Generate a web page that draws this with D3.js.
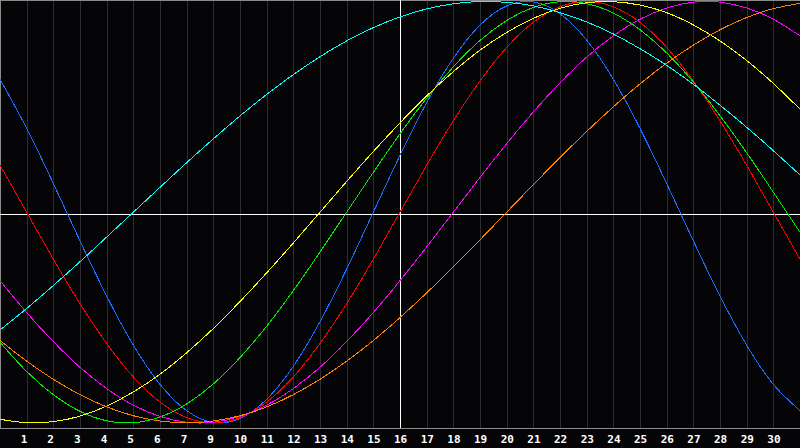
<!DOCTYPE html>
<html>
<head>
<meta charset="utf-8">
<script src="https://cdn.jsdelivr.net/npm/d3@7"></script>
<style>
  html, body { margin: 0; padding: 0; background: #050508; }
  #chart { width: 800px; height: 448px; }
</style>
</head>
<body>
<div id="chart"></div>
<script>
// day index 0..30 (one grid column per day)
const days = d3.range(0, 31);

// tick labels under grid lines 1..29 (the original skips 8)
const tickLabels = [1, 2, 3, 4, 5, 6, 7, 9, 10, 11, 12, 13, 14, 15, 16, 17, 18, 19, 20, 21, 22, 23, 24, 25, 26, 27, 28, 29, 30];
const todayIndex = 15;

// cycle values in percent
const blue23 = [63.1, 39.8, 13.6, -13.6, -39.8, -63.1, -81.7, -94.2, -99.8, -97.9, -88.8, -73.1, -52.0, -27.0, 0, 27.0, 52.0, 73.1, 88.8, 97.9, 99.8, 94.2, 81.7, 63.1, 39.8, 13.6, -13.6, -39.8, -63.1, -81.7, -94.2];
const red28 = [22.3, 0, -22.3, -43.4, -62.3, -78.2, -90.1, -97.5, -100, -97.5, -90.1, -78.2, -62.3, -43.4, -22.3, 0, 22.3, 43.4, 62.3, 78.2, 90.1, 97.5, 100, 97.5, 90.1, 78.2, 62.3, 43.4, 22.3, 0, -22.3];
const green33 = [-61.8, -75.6, -86.6, -94.5, -99.0, -99.9, -97.2, -91.0, -81.5, -69.0, -54.1, -37.2, -18.9, 0, 18.9, 37.2, 54.1, 69.0, 81.5, 91.0, 97.2, 99.9, 99.0, 94.5, 86.6, 75.6, 61.8, 45.8, 28.2, 9.5, -9.5];
const magenta38 = [-32.5, -47.6, -61.4, -73.6, -83.7, -91.6, -96.9, -99.7, -99.7, -96.9, -91.6, -83.7, -73.6, -61.4, -47.6, -32.5, -16.5, 0, 16.5, 32.5, 47.6, 61.4, 73.6, 83.7, 91.6, 96.9, 99.7, 99.7, 96.9, 91.6, 83.7];
const yellow43 = [-98.3, -99.9, -99.4, -96.8, -92.0, -85.3, -76.9, -66.7, -55.2, -42.4, -28.8, -14.6, 0, 14.6, 28.8, 42.4, 55.2, 66.7, 76.9, 85.3, 92.0, 96.8, 99.4, 99.9, 98.3, 94.7, 88.9, 81.3, 72.0, 61.1, 48.9];
const orange48 = [-60.9, -70.7, -79.3, -86.6, -92.4, -96.6, -99.1, -100, -99.1, -96.6, -92.4, -86.6, -79.3, -70.7, -60.9, -50.0, -38.3, -25.9, -13.1, 0, 13.1, 25.9, 38.3, 50.0, 60.9, 70.7, 79.3, 86.6, 92.4, 96.6, 99.1];
const cyan53 = [-55.9, -45.7, -34.8, -23.5, -11.8, 0, 11.8, 23.5, 34.8, 45.7, 55.9, 65.3, 73.8, 81.3, 87.6, 92.7, 96.5, 98.9, 100.0, 99.6, 97.9, 94.7, 90.3, 84.6, 77.6, 69.7, 60.7, 50.8, 40.3, 29.2, 17.7];

const series = [
  { values: blue23, color: "#1c6cff" },
  { values: red28, color: "#ff0000" },
  { values: green33, color: "#00ee00" },
  { values: magenta38, color: "#ff00ff" },
  { values: yellow43, color: "#ffff00" },
  { values: orange48, color: "#ff7f00" },
  { values: cyan53, color: "#00ffff" }
];

const width = 800;
const height = 448;
const plotBottom = 428;

const svg = d3.select("#chart")
  .append("svg")
  .attr("width", width)
  .attr("height", height);

svg.append("rect")
  .attr("width", width)
  .attr("height", height)
  .attr("fill", "#050508");

const x = d3.scaleLinear().domain([0, 30]).range([0, width]);
const y = d3.scaleLinear().domain([-100, 100]).range([422.9, 1.5]);

// grid columns
svg.append("g")
  .selectAll("line")
  .data(d3.range(1, 30))
  .join("line")
  .attr("x1", d => Math.round(x(d)) + 0.5)
  .attr("x2", d => Math.round(x(d)) + 0.5)
  .attr("y1", 0)
  .attr("y2", plotBottom)
  .attr("stroke", "#2e2e31")
  .attr("stroke-width", 1)
  .attr("shape-rendering", "crispEdges");

// frame: top, left and bottom
const frame = svg.append("g")
  .attr("stroke", "#8a8a8a")
  .attr("stroke-width", 1)
  .attr("shape-rendering", "crispEdges");
frame.append("line").attr("x1", 0).attr("x2", width).attr("y1", 0.5).attr("y2", 0.5);
frame.append("line").attr("x1", 0.5).attr("x2", 0.5).attr("y1", 0).attr("y2", plotBottom);
frame.append("line").attr("x1", 0).attr("x2", width).attr("y1", plotBottom + 0.5).attr("y2", plotBottom + 0.5);

// zero line and today marker
svg.append("line")
  .attr("x1", 0).attr("x2", width)
  .attr("y1", plotBottom / 2 + 0.5).attr("y2", plotBottom / 2 + 0.5)
  .attr("stroke", "#ffffff")
  .attr("shape-rendering", "crispEdges");

svg.append("line")
  .attr("x1", x(todayIndex) + 0.5).attr("x2", x(todayIndex) + 0.5)
  .attr("y1", 0).attr("y2", plotBottom)
  .attr("stroke", "#ffffff")
  .attr("shape-rendering", "crispEdges");

const line = d3.line()
  .x((d, i) => x(days[i]))
  .y(d => y(d))
  .curve(d3.curveNatural);

series.forEach(s => {
  svg.append("path")
    .datum(s.values)
    .attr("fill", "none")
    .attr("stroke", s.color)
    .attr("stroke-width", 1)
    .attr("shape-rendering", "crispEdges")
    .attr("d", line);
});

// day labels
svg.append("g")
  .selectAll("text")
  .data(tickLabels)
  .join("text")
  .attr("x", (d, i) => x(i + 1) - 6)
  .attr("y", 443)
  .attr("fill", "#ffffff")
  .style("font-family", "'DejaVu Sans Mono', monospace")
  .style("font-weight", "bold")
  .style("font-size", "11px")
  .text(d => d);
</script>
</body>
</html>
